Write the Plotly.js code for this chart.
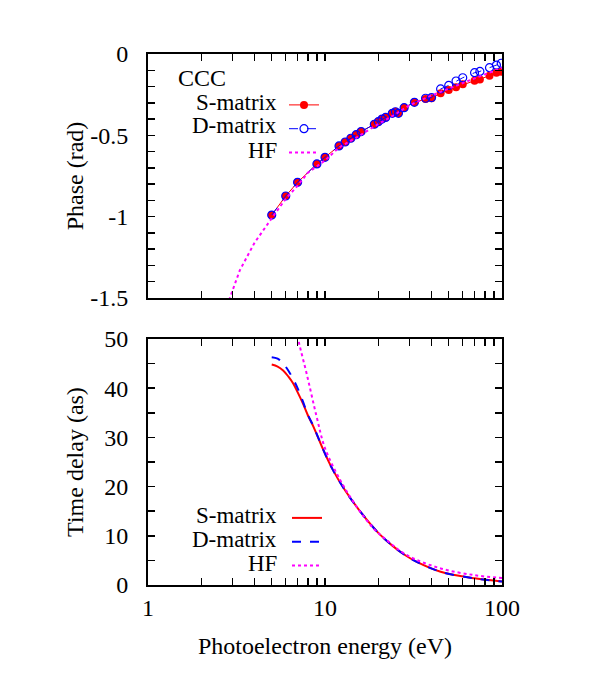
<!DOCTYPE html>
<html>
<head>
<meta charset="utf-8">
<script src="https://cdn.plot.ly/plotly-3.0.1.min.js"></script>
<style>html,body{margin:0;padding:0;background:#fff;}#chart{width:601px;height:695px;}</style>
</head>
<body>
<div id="chart"></div>
<script>
// ---------- data ----------
const phaseEnergy = [5, 6, 7, 9, 10, 12, 13, 14, 15, 16, 19, 20, 21, 22, 24, 25, 26, 28, 32, 37, 40, 45, 50, 55, 60, 70, 75, 85, 93, 99];
const phaseS = [-0.99, -0.873, -0.789, -0.676, -0.635, -0.565, -0.541, -0.518, -0.496, -0.477, -0.432, -0.416, -0.40, -0.39, -0.365, -0.355, -0.365, -0.33, -0.297, -0.277, -0.272, -0.242, -0.221, -0.205, -0.186, -0.164, -0.156, -0.133, -0.115, -0.109];
const phaseD = [-0.99, -0.873, -0.789, -0.676, -0.635, -0.565, -0.541, -0.518, -0.496, -0.477, -0.432, -0.416, -0.40, -0.39, -0.365, -0.355, -0.365, -0.33, -0.297, -0.272, -0.268, -0.215, -0.193, -0.166, -0.146, -0.115, -0.107, -0.084, -0.068, -0.057];
const phaseHFEnergy = [2.7, 2.9, 3.3, 4, 5, 6, 7, 8, 10, 12, 15, 19, 25, 30, 40, 50, 60, 70, 80, 100];
const phaseHF = [-1.62, -1.5, -1.33, -1.16, -1.01, -0.89, -0.81, -0.73, -0.655, -0.575, -0.515, -0.445, -0.37, -0.315, -0.255, -0.215, -0.18, -0.15, -0.125, -0.085];

const delayEnergy = [5, 5.4, 5.8, 6.2, 6.6, 7, 7.5, 8, 8.6, 9.8, 11, 13, 16, 20, 24, 28, 33, 45, 70, 100];
const delayS = [44.8, 44.4, 43.6, 42.4, 41.0, 39.2, 36.9, 34.5, 32.2, 27.4, 23.6, 19.2, 14.7, 10.6, 8.0, 6.2, 4.7, 2.7, 1.35, 0.7];
const delayD = [46.3, 46.0, 45.0, 43.6, 41.9, 40.0, 37.3, 34.6, 32.3, 27.4, 23.6, 19.2, 14.7, 10.6, 8.0, 6.2, 4.7, 2.7, 1.35, 0.7];
const delayHFEnergy = [6, 6.5, 7, 7.87, 8.97, 10, 12.2, 15.1, 18.8, 22, 28.9, 44.7, 70, 100];
const delayHF = [65, 57, 50.5, 43, 34.2, 27.8, 21.3, 15.9, 11.5, 9.3, 6.1, 3.4, 2.0, 1.4];

const xTickVals = [1,2,3,4,5,6,7,8,9,10,20,30,40,50,60,70,80,90,100];
const xTickText = ['1','','','','','','','','','10','','','','','','','','','100'];
const phaseTickVals = [-1.5,-1.4,-1.3,-1.2,-1.1,-1,-0.9,-0.8,-0.7,-0.6,-0.5,-0.4,-0.3,-0.2,-0.1,0];
const phaseTickText = ['-1.5','','','','','-1','','','','','-0.5','','','','','0'];
const delayTickVals = [0,5,10,15,20,25,30,35,40,45,50];
const delayTickText = ['0','','10','','20','','30','','40','','50'];

const seriesNames = ['S-matrix', 'D-matrix', 'HF'];

// ---------- style ----------
const FONT = 'Liberation Serif';
const FS = 24;
const LFS = 23;
const RED = '#ff0000', BLUE = '#0000ff', MAG = '#ff00ff';

const traces = [
  {x: phaseEnergy, y: phaseS, xaxis: 'x2', yaxis: 'y2', mode: 'lines+markers', name: '', legend: 'legend',
   line: {color: RED, width: 1}, marker: {color: RED, size: 8, symbol: 'circle'}},
  {x: phaseEnergy, y: phaseD, xaxis: 'x2', yaxis: 'y2', mode: 'lines+markers', name: '', legend: 'legend',
   line: {color: BLUE, width: 1, dash: 'dash'}, marker: {color: BLUE, size: 8, symbol: 'circle-open', line: {width: 1.2, color: BLUE}}},
  {x: phaseHFEnergy, y: phaseHF, xaxis: 'x2', yaxis: 'y2', mode: 'lines', name: '', legend: 'legend',
   line: {color: MAG, width: 2, dash: 'dot'}},
  {x: delayEnergy, y: delayS, xaxis: 'x', yaxis: 'y', mode: 'lines', name: '', legend: 'legend2', line: {color: RED, width: 2, shape: 'spline'}},
  {x: delayEnergy, y: delayD, xaxis: 'x', yaxis: 'y', mode: 'lines', name: '', legend: 'legend2', line: {color: BLUE, width: 2, dash: 'dash', shape: 'spline'}},
  {x: delayHFEnergy, y: delayHF, xaxis: 'x', yaxis: 'y', mode: 'lines', name: '', legend: 'legend2', line: {color: MAG, width: 2, dash: 'dot', shape: 'spline'}}
];

const axisCommon = {
  showline: true, linecolor: '#000', linewidth: 2, mirror: 'allticks',
  ticks: 'inside', ticklen: 7, tickwidth: 1.5, tickcolor: '#000',
  showgrid: false, zeroline: false, tickfont: {family: FONT, size: FS, color: '#000'}
};

// plot area px: x 148..502, y 54..585
const PL = 148, PR = 502, PT = 54, PB = 585;
const px2x = p => (p - PL) / (PR - PL);
const px2y = p => (PB - p) / (PB - PT);

const annotations = [
  {text: 'CCC', x: px2x(177), y: px2y(78), xanchor: 'left', font: {family: FONT, size: FS, color: '#000'}},
  {text: seriesNames[0], x: px2x(278), y: px2y(102), xanchor: 'right'},
  {text: seriesNames[1], x: px2x(278), y: px2y(126), xanchor: 'right'},
  {text: seriesNames[2], x: px2x(278), y: px2y(150), xanchor: 'right'},
  {text: seriesNames[0], x: px2x(278), y: px2y(515), xanchor: 'right'},
  {text: seriesNames[1], x: px2x(278), y: px2y(539), xanchor: 'right'},
  {text: seriesNames[2], x: px2x(278), y: px2y(563), xanchor: 'right'}
].map(a => Object.assign({xref: 'paper', yref: 'paper', yanchor: 'middle', showarrow: false, borderpad: 0,
  font: {family: FONT, size: LFS, color: '#000'}}, a));

const legendCommon = {bgcolor: 'rgba(0,0,0,0)', borderwidth: 0, font: {family: FONT, size: 16}, tracegroupgap: 0, xanchor: 'left', yanchor: 'top'};

const layout = {
  width: 601, height: 695,
  margin: {l: PL, r: 601 - PR, t: PT, b: 695 - PB},
  paper_bgcolor: '#fff', plot_bgcolor: '#fff',
  font: {family: FONT, size: FS, color: '#000'},
  showlegend: true,
  xaxis: Object.assign({}, axisCommon, {type: 'log', range: [0, 2], anchor: 'y', tickvals: xTickVals, ticktext: xTickText,
    title: {text: 'Photoelectron energy (eV)', font: {family: FONT, size: FS, color: '#000'}, standoff: 17}}),
  yaxis: Object.assign({}, axisCommon, {domain: [0, 0.4633], range: [0, 50], tickvals: delayTickVals, ticktext: delayTickText,
    ticklabelstandoff: 13,
    title: {text: 'Time delay (as)', font: {family: FONT, size: FS, color: '#000'}, standoff: 14}}),
  xaxis2: Object.assign({}, axisCommon, {type: 'log', range: [0, 2], anchor: 'y2', tickvals: xTickVals, ticktext: xTickText, showticklabels: false}),
  yaxis2: Object.assign({}, axisCommon, {domain: [0.5405, 1], range: [-1.5, 0], tickvals: phaseTickVals, ticktext: phaseTickText,
    ticklabelstandoff: 13,
    title: {text: 'Phase (rad)', font: {family: FONT, size: FS, color: '#000'}, standoff: 0}}),
  legend: Object.assign({}, legendCommon, {x: px2x(284), y: px2y(88)}),
  legend2: Object.assign({}, legendCommon, {x: px2x(287), y: px2y(501)}),
  annotations: annotations
};

Plotly.newPlot('chart', traces, layout, {displayModeBar: false, staticPlot: true});
</script>
</body>
</html>
